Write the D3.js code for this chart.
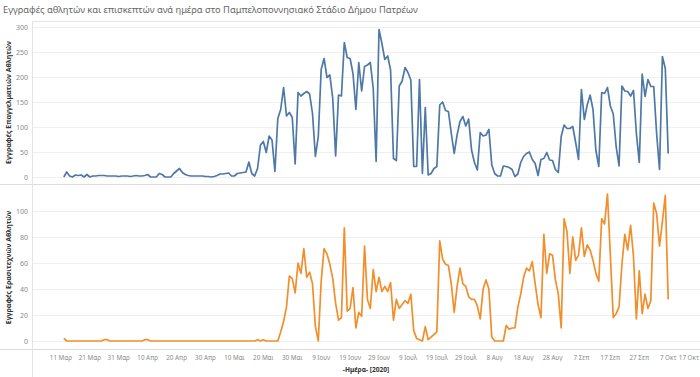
<!DOCTYPE html>
<html>
<head>
<meta charset="utf-8">
<script src="https://cdn.jsdelivr.net/npm/d3@7"></script>
<style>
  body { margin: 0; background: #fff; }
  svg { display: block; font-family: "Noto Sans", "Open Sans", sans-serif; }
</style>
</head>
<body>
<div id="chart"></div>
<script>
const titleText = "Εγγραφές αθλητών και επισκεπτών ανά ημέρα στο Παμπελοποννησιακό Στάδιο Δήμου Πατρέων";
const topTitle = "Εγγραφές Επαγγελματιών Αθλητών";
const bottomTitle = "Εγγραφές Ερασιτεχνών Αθλητών";
const xTitle = "-Ημέρα- [2020]";

const startDate = "2020-03-12";   // one value per day from here on

// professional athletes (top panel)
const proValues = [
  0,10,2,0,4,3,4,0,5,0,
  2,2,3,3,3,2,2,2,2,1,
  2,2,2,1,2,3,2,2,3,5,
  0,0,0,7,5,0,0,0,7,12,
  17,9,5,3,2,2,2,2,2,1,
  1,0,1,3,6,6,7,8,2,2,
  7,8,9,10,30,7,2,17,64,71,
  49,82,74,11,117,135,179,122,129,119,
  26,169,162,167,171,166,127,41,81,215,
  237,199,204,157,42,164,162,269,239,237,
  207,135,229,172,221,224,229,177,31,295,
  267,235,242,214,37,33,182,192,219,209,
  194,21,21,195,7,139,4,7,17,21,
  144,150,133,131,87,47,84,111,121,102,
  116,54,29,14,89,82,84,95,24,7,
  2,2,22,21,19,15,1,6,29,41,
  47,50,35,27,3,35,37,49,34,33,
  15,9,81,104,97,97,101,69,35,175,
  115,144,164,135,53,21,169,167,179,142,
  126,61,22,182,172,171,162,173,87,29,
  206,161,195,181,181,87,15,241,217,47
];

// amateur athletes (bottom panel)
const amateurValues = [
  2,0,0,0,0,0,0,0,0,0,
  0,0,0,0,1,1,0,0,0,0,
  0,0,0,0,0,0,0,0,1,1,
  0,0,0,0,0,0,0,0,0,0,
  0,0,0,0,0,0,0,0,0,0,
  0,0,0,0,0,0,0,0,0,0,
  0,0,0,0,0,0,0,1,0,1,
  0,0,0,0,0,7,15,26,50,48,
  37,60,52,71,49,53,44,11,0,46,
  71,67,59,48,29,16,18,87,23,25,
  41,10,22,19,73,32,25,55,38,49,
  38,42,38,45,16,32,25,28,31,29,
  36,8,2,1,0,11,1,3,5,7,
  77,63,59,58,44,22,42,56,44,42,
  34,32,32,27,17,40,47,40,3,0,
  0,0,0,12,9,10,10,26,36,49,
  56,54,61,44,28,18,82,52,67,66,
  47,36,10,94,84,52,80,62,66,87,
  65,74,70,62,52,46,94,90,113,66,
  18,21,26,59,82,70,89,65,17,54,
  21,36,25,31,106,98,73,92,112,32
];

const xTicks = ["2020-03-11","2020-03-21","2020-03-31","2020-04-10","2020-04-20","2020-04-30",
  "2020-05-10","2020-05-20","2020-05-30","2020-06-09","2020-06-19","2020-06-29","2020-07-09",
  "2020-07-19","2020-07-29","2020-08-08","2020-08-18","2020-08-28","2020-09-07","2020-09-17",
  "2020-09-27","2020-10-07","2020-10-17"];
const monthNames = ["Ιαν","Φεβ","Μαρ","Απρ","Μαι","Ιουν","Ιουλ","Αυγ","Σεπ","Οκτ","Νοε","Δεκ"];
const proTicks = [0, 50, 100, 150, 200, 250, 300];
const amateurTicks = [0, 20, 40, 60, 80, 100];

const width = 700, height = 377;
const parse = d3.utcParse("%Y-%m-%d");
const t0 = parse(startDate);
const days = proValues.map((_, i) => d3.utcDay.offset(t0, i));

const x = d3.scaleUtc()
  .domain([parse("2020-03-01"), parse("2020-10-18")])
  .range([32, 700]);

const yTop = d3.scaleLinear().domain([-14, 312]).range([184, 21]);
const yBot = d3.scaleLinear().domain([-6.15, 119.2]).range([349, 186]);

const svg = d3.select("#chart").append("svg")
  .attr("width", width)
  .attr("height", height);

svg.append("text")
  .attr("x", 3).attr("y", 13)
  .attr("font-size", 9.3)
  .attr("fill", "#666")
  .text(titleText);

const panels = [
  { y: yTop, ticks: proTicks, values: proValues, color: "#4e79a7", title: topTitle, top: 21, bottom: 184 },
  { y: yBot, ticks: amateurTicks, values: amateurValues, color: "#f28e2b", title: bottomTitle, top: 186, bottom: 349 }
];

// panel borders
svg.append("line").attr("x1", 32).attr("x2", 700).attr("y1", 21.5).attr("y2", 21.5)
  .attr("stroke", "#e4e4e4");
[184.5, 349.5].forEach(yy => {
  svg.append("line").attr("x1", 0).attr("x2", 700).attr("y1", yy).attr("y2", yy)
    .attr("stroke", "#dcdcdc");
});
svg.append("line").attr("x1", 32.5).attr("x2", 32.5).attr("y1", 21).attr("y2", 377)
  .attr("stroke", "#e4e4e4");

panels.forEach(p => {
  const g = svg.append("g");

  g.append("g")
    .selectAll("line")
    .data(p.ticks)
    .join("line")
      .attr("x1", 33).attr("x2", 700)
      .attr("y1", d => Math.round(p.y(d)) + 0.5)
      .attr("y2", d => Math.round(p.y(d)) + 0.5)
      .attr("stroke", "#f0f0f0");

  const axis = g.append("g")
    .attr("transform", "translate(32,0)")
    .call(d3.axisLeft(p.y).tickValues(p.ticks).tickSize(0).tickPadding(4));
  axis.select(".domain").remove();
  axis.selectAll("text")
    .attr("font-family", "Noto Sans, sans-serif")
    .attr("font-size", 7)
    .attr("fill", "#8a8a8a");

  g.append("text")
    .attr("transform", `translate(11,${(p.top + p.bottom) / 2}) rotate(-90)`)
    .attr("text-anchor", "middle")
    .attr("font-size", 7)
    .attr("font-weight", "bold")
    .attr("fill", "#333")
    .text(p.title);

  const line = d3.line()
    .x((d, i) => x(days[i]))
    .y(d => p.y(d));

  g.append("path")
    .datum(p.values)
    .attr("fill", "none")
    .attr("stroke", p.color)
    .attr("stroke-width", 1.7)
    .attr("stroke-linejoin", "round")
    .attr("d", line);
});

// x axis labels (last one pushed in so it stays on the page)
const fmt = d => `${d.getUTCDate()} ${monthNames[d.getUTCMonth()]}`;
const last = xTicks.length - 1;
svg.append("g")
  .selectAll("text")
  .data(xTicks.map(parse))
  .join("text")
    .attr("x", (d, i) => i === last ? 699 : x(d))
    .attr("y", 359.5)
    .attr("text-anchor", (d, i) => i === last ? "end" : "middle")
    .attr("font-size", 6.3)
    .attr("fill", "#8a8a8a")
    .text(fmt);

svg.append("text")
  .attr("x", 366).attr("y", 371.5)
  .attr("text-anchor", "middle")
  .attr("font-size", 6.6)
  .attr("font-weight", "bold")
  .attr("fill", "#333")
  .text(xTitle);
</script>
</body>
</html>
